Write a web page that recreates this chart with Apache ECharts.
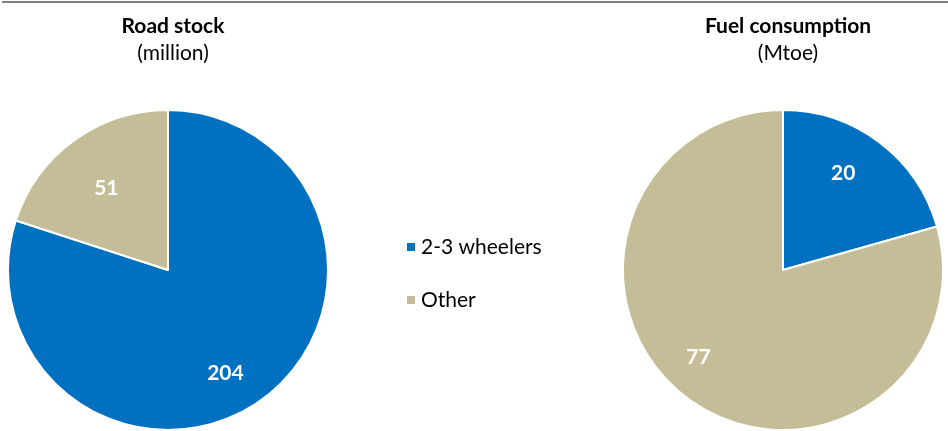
<!DOCTYPE html>
<html>
<head>
<meta charset="utf-8">
<script src="https://cdn.jsdelivr.net/npm/echarts@6/dist/echarts.min.js"></script>
<style>
html,body{margin:0;padding:0;background:#fff;}
#chart{width:948px;height:431px;}
</style>
</head>
<body>
<div id="chart"></div>
<script>
// ---- data ----
const categories = ['2-3 wheelers', 'Other'];
const roadStock = [204, 51];
const fuelConsumption = [20, 77];
const chartTitles = ['Road stock', 'Fuel consumption'];
const chartUnits = ['(million)', '(Mtoe)'];

// ---- styling ----
const colors = ['#0070C0', '#C4BD97'];
const FONT = 'Lato, "Open Sans", sans-serif';
const pieCenters = [[168, 270], [783, 270]];
const pieRadius = 160;
// label placement [series][dataIndex] = [angle clockwise from top (deg), fraction of radius]
const labelPolar = [[[151, 0.74], [323, 0.64]], [[32, 0.71], [224, 0.76]]];

const chart = echarts.init(document.getElementById('chart'));

function makeData(values) {
  return categories.map((c, i) => ({ name: c, value: values[i], itemStyle: { color: colors[i] } }));
}

function makeSeries(values, idx) {
  return {
    type: 'pie',
    center: pieCenters[idx],
    radius: [0, pieRadius],
    startAngle: 90,
    clockwise: true,
    avoidLabelOverlap: false,
    animation: false,
    itemStyle: { borderColor: '#ffffff', borderWidth: 2 },
    label: {
      show: true,
      position: 'inside',
      formatter: '{c}',
      color: '#ffffff',
      fontFamily: FONT,
      fontWeight: 'bold',
      fontSize: 21
    },
    labelLine: { show: false },
    emphasis: { disabled: true },
    labelLayout: function (p) {
      const c = pieCenters[p.seriesIndex];
      const r = p.labelRect;
      const lx = r.x + r.width / 2, ly = r.y + r.height / 2;
      const pol = labelPolar[p.seriesIndex][p.dataIndex];
      const a = pol[0] * Math.PI / 180;
      const tx = c[0] + Math.sin(a) * pol[1] * pieRadius;
      const ty = c[1] - Math.cos(a) * pol[1] * pieRadius;
      return { dx: tx - lx, dy: ty - ly };
    },
    data: makeData(values)
  };
}

chart.setOption({
  backgroundColor: '#ffffff',
  title: chartTitles.map((t, i) => ({
    text: t,
    subtext: chartUnits[i],
    left: pieCenters[i][0],
    textAlign: 'center',
    top: 10,
    itemGap: 5,
    textStyle: { fontFamily: FONT, fontWeight: 'bold', fontSize: 21, lineHeight: 22, color: '#000' },
    subtextStyle: { fontFamily: FONT, fontWeight: 'normal', fontSize: 21, lineHeight: 22, color: '#000' }
  })),
  legend: {
    orient: 'vertical',
    left: 400,
    top: 231,
    icon: 'rect',
    itemWidth: 10,
    itemHeight: 10,
    itemGap: 31,
    selectedMode: false,
    data: categories,
    textStyle: { fontFamily: FONT, fontSize: 21, color: '#000', lineHeight: 22 }
  },
  graphic: [{
    type: 'line',
    shape: { x1: 2, y1: 2, x2: 948, y2: 2 },
    style: { stroke: '#808080', lineWidth: 2 }
  }],
  series: [makeSeries(roadStock, 0), makeSeries(fuelConsumption, 1)]
});
</script>
</body>
</html>
